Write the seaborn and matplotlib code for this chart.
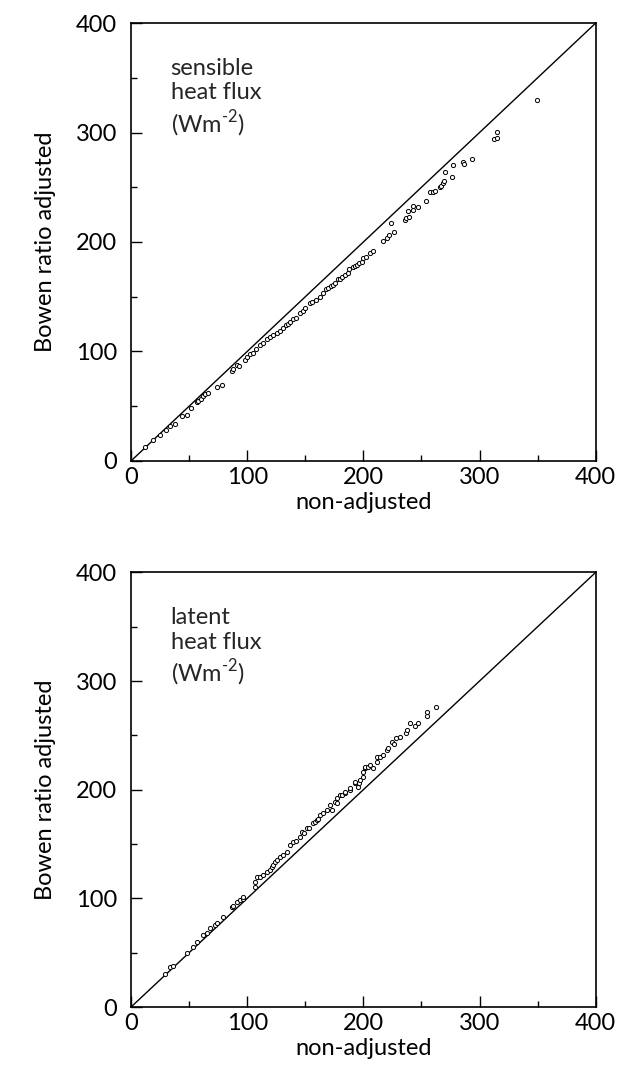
import matplotlib
matplotlib.use("Agg")
import matplotlib.pyplot as plt
import seaborn as sns
import pandas as pd
from matplotlib.ticker import MultipleLocator

# sensible heat flux (Wm-2): non-adjusted vs Bowen ratio adjusted
sens_x = [12, 19, 25, 30, 33.5, 38, 43.6, 48, 52, 56.5, 58, 60, 62, 63.7, 66, 73.7, 78,
          86.6, 88, 90.9, 93, 98, 100, 102.4, 105, 108, 111, 114, 117, 119.6, 122, 125.3,
          128, 131, 133, 135.3, 137, 139.6, 142, 145.4, 148.2, 150, 154, 156, 159, 162.6,
          165.4, 168, 169.7, 172, 174, 176, 178.3, 180, 182, 184.1, 186.9, 188, 191.2, 193,
          194.1, 196, 198.4, 199.8, 202, 205.6, 207.9, 216.5, 219.9, 222.2, 223.4, 226.5,
          235.7, 236.6, 238, 239.4, 242.9, 243, 247.2, 254.3, 257.2, 260, 261.8, 265.8,
          266.7, 268.1, 269.5, 270.4, 275.9, 277.3, 285.9, 286.7, 293.3, 312.5, 315.4, 315,
          349.5]
sens_y = [13, 19, 24, 28, 32, 34, 41, 42, 48, 54, 55, 57, 59, 61, 62, 67.9, 69,
          82.5, 84, 87.7, 87, 92.2, 95, 98, 99, 102, 106, 108, 111, 113, 115, 117,
          119, 121, 124, 125, 127, 130, 131, 135, 137, 140, 144, 145, 147, 150,
          153, 157, 158, 160, 161, 163, 166, 166, 168, 170, 172, 175, 177, 178,
          179, 181, 182, 185, 186, 190, 192, 201, 204, 206, 217, 209,
          220, 222, 228, 223, 229, 233, 232, 237.7, 245.4, 245.9, 246.8, 250.5,
          251.4, 253.6, 255.4, 263.6, 259, 270.6, 273.3, 271.2, 275.8, 294, 295, 300.5,
          329.7]

# latent heat flux (Wm-2)
lat_x = [29.2, 33.5, 36, 47.9, 53.6, 56.5, 62.3, 65.1, 68, 72.3, 73.7, 79.4, 86.6, 88,
         90.9, 93.8, 96.6, 96.7, 106.7, 106.7, 108.1, 111, 113.8, 117, 119.6, 121, 122,
         123.9, 126, 128.2, 131, 133.9, 136.8, 139.6, 142, 145.4, 146.8, 149, 151.1, 153,
         156.8, 158, 159.7, 161, 162.6, 165.4, 168.3, 171.2, 172.6, 175.5, 176.9, 176.9,
         179.8, 181.2, 184.1, 184.1, 188.4, 188.4, 192.7, 192.7, 195.5, 196.4, 197, 199.8,
         199.8, 201.3, 201.3, 204.2, 205.6, 208, 211.4, 211.4, 214.2, 217, 220, 221.4,
         224.3, 226, 228.5, 231.3, 236.6, 237.2, 240, 244.3, 247.2, 254.4, 254.4, 262.4]
lat_y = [30.3, 36.5, 38, 49.4, 55.4, 60, 66.2, 68.3, 72.4, 75.4, 77, 83.1, 91.7, 93,
         96.8, 98.4, 99, 101, 110.7, 115.2, 119.8, 119.8, 121.4, 124, 126, 129, 131,
         133.6, 135, 138.2, 140, 142.8, 149, 152, 153, 156.6, 161.2, 160, 164.3, 165,
         168.9, 170, 172, 173, 176.6, 178.1, 181.1, 185.7, 181.1, 188.8, 187.3, 191.9,
         195, 194.9, 196.5, 198, 199.5, 201.1, 205.7, 207.2, 202.6, 205.7, 208.7, 211.3,
         216.4, 219.5, 221, 221, 222.5, 220, 225.6, 230.2, 230.2, 232, 236.3, 237.9,
         244, 242, 247.1, 248.6, 251.7, 254.7, 260.9, 258.4, 261.4, 267.6, 271.2, 275.7]

one_to_one = [0, 400]
ticks = [0, 100, 200, 300, 400]
labels = ["sensible\nheat flux\n(Wm$^{\\mathregular{\u2010}\\mathregular{2}}$)",
          "latent\nheat flux\n(Wm$^{\\mathregular{\u2010}\\mathregular{2}}$)"]

sns.set_theme(style="ticks")
plt.rcParams['font.family'] = ['Lato', 'DejaVu Sans']
plt.rcParams['mathtext.fontset'] = 'custom'
plt.rcParams['mathtext.rm'] = 'Lato'

fig = plt.figure(figsize=(6.18, 10.76), dpi=100)
ax_top = fig.add_axes([0.212, 0.5716, 0.752, 0.407])
ax_bot = fig.add_axes([0.212, 0.0641, 0.752, 0.404])

panels = [(ax_top, sens_x, sens_y, labels[0]), (ax_bot, lat_x, lat_y, labels[1])]

for ax, xs, ys, lab in panels:
    df = pd.DataFrame({"x": xs, "y": ys})
    ax.plot(one_to_one, one_to_one, color="black", lw=1.0, zorder=1)
    sns.scatterplot(data=df, x="x", y="y", ax=ax, marker="o", s=9,
                    facecolor="white", edgecolor="black", linewidth=0.7, zorder=2)
    ax.set_xlim(0, 400)
    ax.set_ylim(0, 400)
    ax.set_xticks(ticks)
    ax.set_yticks(ticks)
    ax.xaxis.set_minor_locator(MultipleLocator(50))
    ax.yaxis.set_minor_locator(MultipleLocator(50))
    ax.tick_params(which="major", direction="in", length=8, width=1.0, color="black",
                   labelsize=17, labelcolor="black")
    ax.tick_params(which="minor", direction="in", length=4.5, width=1.0, color="black")
    ax.tick_params(axis="x", which="major", pad=4)
    ax.tick_params(axis="y", which="major", pad=10)
    for sp in ax.spines.values():
        sp.set_visible(True)
        sp.set_color("black")
        sp.set_linewidth(1.2)
    ax.set_xlabel("non-adjusted", fontsize=17, color="black", labelpad=3)
    ax.set_ylabel("Bowen ratio adjusted", fontsize=17, color="black", labelpad=14)
    ax.text(34, 368, lab, fontsize=17, va="top", ha="left", linespacing=1.2)

fig.savefig("out.png", dpi=100, facecolor="white")
